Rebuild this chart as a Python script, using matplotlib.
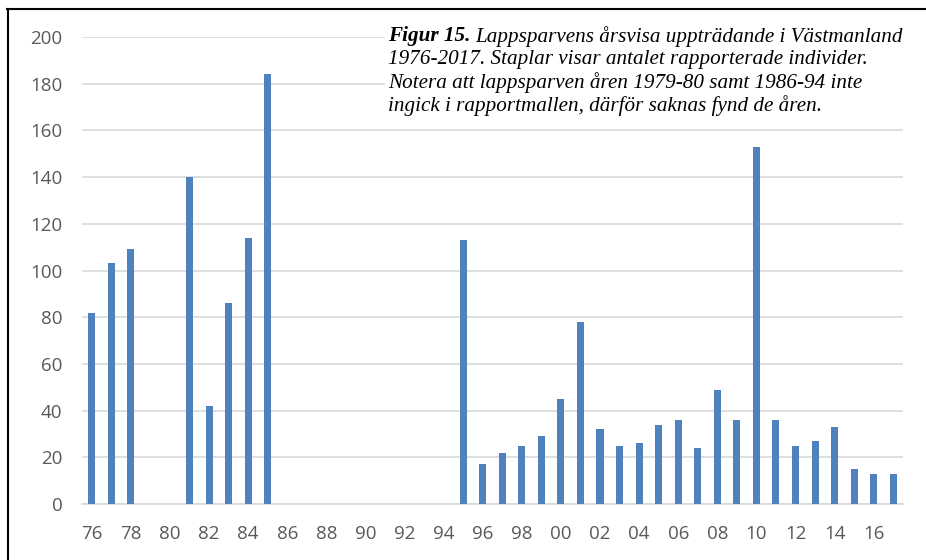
import matplotlib
matplotlib.use("Agg")
import matplotlib.pyplot as plt
from matplotlib.lines import Line2D

years = list(range(1976, 2018))
counts = [82, 103, 109, 0, 0, 140, 42, 86, 114, 184,
          0, 0, 0, 0, 0, 0, 0, 0, 0,
          113, 17, 22, 25, 29, 45, 78, 32, 25, 26, 34, 36, 24, 49, 36,
          153, 36, 25, 27, 33, 15, 13, 13]
xtick_years = list(range(1976, 2018, 2))
xtick_labels = [f"{y % 100:02d}" for y in xtick_years]
yticks = list(range(0, 201, 20))

W, H = 926, 560
fig = plt.figure(figsize=(W / 100, H / 100), dpi=100)
ax = fig.add_axes([82 / W, 1 - 504 / H, (903 - 82) / W, (504 - 37) / H])

ax.bar(years, counts, width=0.36, color="#4f81bd", zorder=3)
ax.set_xlim(1975.5, 2017.5)
ax.set_ylim(0, 200)
ax.set_yticks(yticks)
ax.set_xticks(xtick_years)
ax.set_xticklabels(xtick_labels)
ax.grid(axis="y", color="#d9d9d9", linewidth=1.2, zorder=0)
for s in ["top", "right", "left"]:
    ax.spines[s].set_visible(False)
ax.spines["bottom"].set_color("#d9d9d9")
ax.spines["bottom"].set_linewidth(1.2)
ax.tick_params(axis="both", length=0, labelsize=13.5, colors="#595959")
ax.tick_params(axis="y", pad=14)
ax.tick_params(axis="x", pad=15)
for lab in ax.get_xticklabels() + ax.get_yticklabels():
    lab.set_fontfamily("Open Sans")

# caption box
fig.patches.append(plt.Rectangle((385 / W, 1 - 124 / H), (910 - 385) / W, (124 - 22) / H,
                                 transform=fig.transFigure, facecolor="white",
                                 edgecolor="none", zorder=5))
fs = 15.2
x0 = 388 / W
y0 = 1 - 26.5 / H
t1 = fig.text(x0, y0, "Figur 15.", fontfamily="Liberation Serif", fontstyle="italic",
              fontweight="bold", fontsize=fs, va="top", ha="left", zorder=6)
fig.canvas.draw()
bb = t1.get_window_extent(renderer=fig.canvas.get_renderer())
x1 = (bb.x1 + 5) / W
fig.text(x1, y0, "Lappsparvens årsvisa uppträdande i Västmanland",
         fontfamily="Liberation Serif", fontstyle="italic", fontsize=fs,
         va="top", ha="left", zorder=6)
fig.text(x0, y0 - 24 / H,
         "1976-2017. Staplar visar antalet rapporterade individer.\n"
         "Notera att lappsparven åren 1979-80 samt 1986-94 inte\n"
         "ingick i rapportmallen, därför saknas fynd de åren.",
         fontfamily="Liberation Serif", fontstyle="italic", fontsize=fs,
         va="top", ha="left", linespacing=1.16, zorder=6)

# frame lines (top and left)
fig.add_artist(Line2D([7 / W, 1], [1 - 8.5 / H, 1 - 8.5 / H], transform=fig.transFigure,
                      color="black", linewidth=1.5))
fig.add_artist(Line2D([7.5 / W, 7.5 / W], [0, 1 - 8.5 / H], transform=fig.transFigure,
                      color="black", linewidth=1.5))

fig.savefig("out.png", dpi=100)
